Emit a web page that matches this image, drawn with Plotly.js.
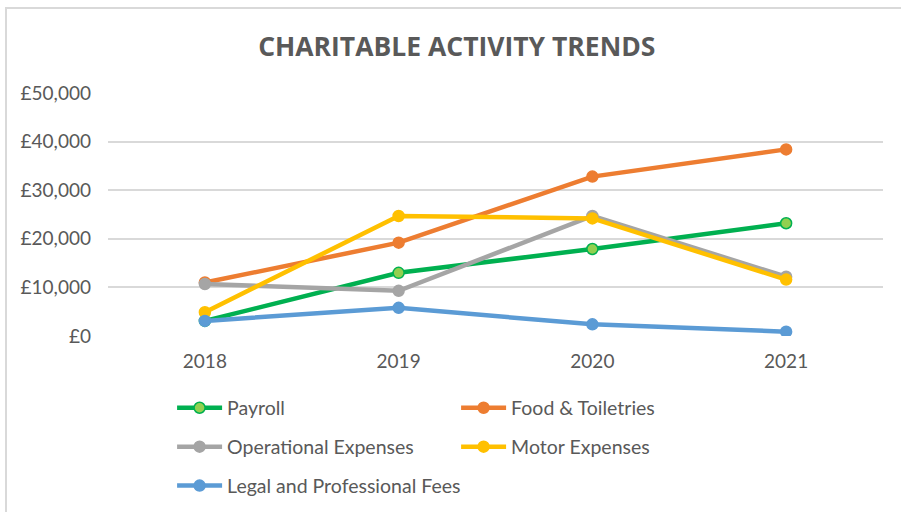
<!DOCTYPE html>
<html>
<head>
<meta charset="utf-8">
<script src="https://cdn.plot.ly/plotly-3.0.1.min.js"></script>
<style>
  html, body { margin: 0; padding: 0; background: #fff; }
  #wrap { position: relative; width: 901px; height: 512px; overflow: hidden; }
  #chart { width: 901px; height: 512px; }
  #frame { position: absolute; left: 5px; top: 7px; width: 910px; height: 520px;
           border-left: 2px solid #d9d9d9; border-top: 2px solid #d9d9d9; pointer-events: none; }
</style>
</head>
<body>
<div id="wrap">
  <div id="chart"></div>
  <div id="frame"></div>
</div>
<script>
const years = ['2018', '2019', '2020', '2021'];
const payroll = [3100, 13000, 17900, 23200];
const foodToiletries = [11000, 19200, 32800, 38400];
const operationalExpenses = [10700, 9300, 24700, 12200];
const motorExpenses = [4900, 24700, 24200, 11600];
const legalProfessional = [3100, 5800, 2400, 900];
const yTickVals = [0, 10000, 20000, 30000, 40000, 50000];
const yTickText = ['£0', '£10,000', '£20,000', '£30,000', '£40,000', '£50,000'];

const FONT = 'Lato, "Open Sans", sans-serif';
const GREY = '#595959';

function series(name, y, color, legend, markerFill, markerLine) {
  return {
    type: 'scatter', mode: 'lines+markers', name: name,
    x: years, y: y, legend: legend,
    line: { color: color, width: 4.5 },
    marker: { size: 11, color: markerFill || color,
              line: { color: markerLine || color, width: 1.5 } },
    hoverinfo: 'x+y+name'
  };
}

const traces = [
  series('Payroll', payroll, '#00B050', 'legend', '#92D050', '#00B050'),
  series('Food & Toiletries', foodToiletries, '#ED7D31', 'legend'),
  series('Operational Expenses', operationalExpenses, '#A5A5A5', 'legend2'),
  series('Motor Expenses', motorExpenses, '#FFC000', 'legend2'),
  series('Legal and Professional Fees', legalProfessional, '#5B9BD5', 'legend3')
];

function leg(y, w) {
  return {
    orientation: 'h', x: 0.191, xanchor: 'left', y: y, yanchor: 'middle',
    xref: 'container', yref: 'container',
    font: { family: FONT, size: 19.5, color: GREY },
    entrywidth: w, entrywidthmode: 'pixels',
    traceorder: 'normal', bgcolor: 'rgba(0,0,0,0)', itemwidth: 45
  };
}

const layout = {
  width: 901, height: 512,
  margin: { l: 108, r: 18, t: 93, b: 176 },
  paper_bgcolor: '#ffffff', plot_bgcolor: '#ffffff',
  font: { family: FONT, color: GREY },
  title: {
    text: '<b>CHARITABLE ACTIVITY TRENDS</b>',
    font: { family: '"Open Sans", sans-serif', size: 26.5, color: GREY },
    x: 0.507, xanchor: 'center', y: 0.908, yanchor: 'middle'
  },
  xaxis: {
    type: 'category', range: [-0.5, 3.5],
    showgrid: false, zeroline: false, showline: false, ticks: '',
    ticklabelstandoff: 12,
    tickfont: { family: FONT, size: 19, color: GREY },
    fixedrange: true
  },
  yaxis: {
    range: [0, 50000], tickvals: yTickVals, ticktext: yTickText,
    showgrid: true, gridcolor: '#D9D9D9', gridwidth: 1.5,
    zeroline: false, showline: false, ticks: '', ticklabelstandoff: 16,
    tickfont: { family: FONT, size: 19, color: GREY },
    fixedrange: true
  },
  legend: leg(0.203, 224),
  legend2: leg(0.127, 224),
  legend3: leg(0.051, 320),
  showlegend: true
};

Plotly.newPlot('chart', traces, layout, { displayModeBar: false });
</script>
</body>
</html>
